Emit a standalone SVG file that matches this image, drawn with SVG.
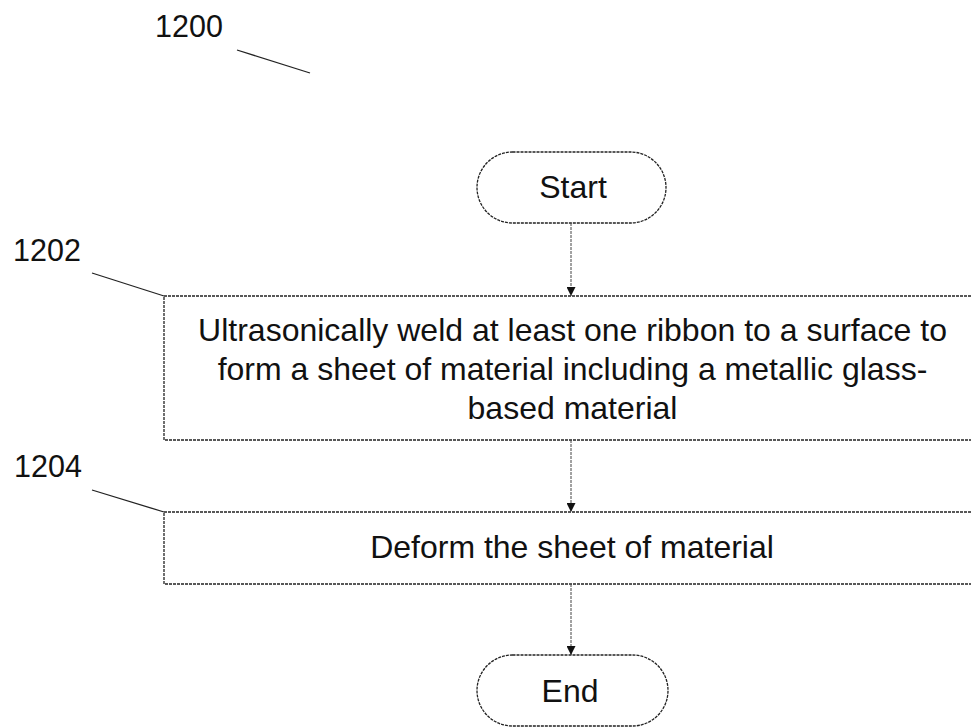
<svg xmlns="http://www.w3.org/2000/svg" width="971" height="728" viewBox="0 0 971 728">
<defs>
<style>
.shape{fill:#fff;stroke:#222;stroke-width:1.3;stroke-dasharray:3 1}
.lead{fill:none;stroke:#222;stroke-width:1.3}
.conn{fill:none;stroke:#444;stroke-width:1;stroke-dasharray:3 1}
text{font-family:"Liberation Sans",Arial,sans-serif;font-size:32px;fill:#111}
.c{text-anchor:middle}
.lbl{font-size:30.5px}
</style>
<marker id="ah" markerWidth="9" markerHeight="9" refX="9" refY="4.5" orient="auto" markerUnits="userSpaceOnUse" viewBox="0 0 9 9">
<path d="M0,0 L9,4.5 L0,9 Z" fill="#111"/>
</marker>
</defs>
<g id="label-1200">
<text class="lbl" x="155" y="37">1200</text>
<line class="lead" x1="237" y1="50" x2="310" y2="73"/>
</g>
<g id="start">
<rect class="shape" x="477" y="152" width="189" height="71" rx="35.5" ry="35.5"/>
<text class="c" x="573" y="198">Start</text>
</g>
<g id="step-1202">
<text class="lbl" x="13" y="261">1202</text>
<line class="lead" x1="92" y1="273" x2="164" y2="296"/>
<rect class="shape" x="164" y="296" width="812" height="144"/>
<text class="c" x="572.5" y="341">Ultrasonically weld at least one ribbon to a surface to</text>
<text class="c" x="572.5" y="380">form a sheet of material including a metallic glass-</text>
<text class="c" x="572.5" y="419">based material</text>
</g>
<g id="step-1204">
<text class="lbl" x="14" y="477">1204</text>
<line class="lead" x1="92" y1="490" x2="164" y2="512"/>
<rect class="shape" x="164" y="512" width="812" height="72"/>
<text class="c" x="572" y="558">Deform the sheet of material</text>
</g>
<g id="end">
<rect class="shape" x="477" y="655" width="191" height="71" rx="35.5" ry="35.5"/>
<text class="c" x="570" y="702">End</text>
</g>
<g id="connectors">
<line class="conn" x1="571" y1="223" x2="571" y2="296" marker-end="url(#ah)"/>
<line class="conn" x1="571" y1="440" x2="571" y2="512" marker-end="url(#ah)"/>
<line class="conn" x1="571" y1="584" x2="571" y2="655" marker-end="url(#ah)"/>
</g>
</svg>
